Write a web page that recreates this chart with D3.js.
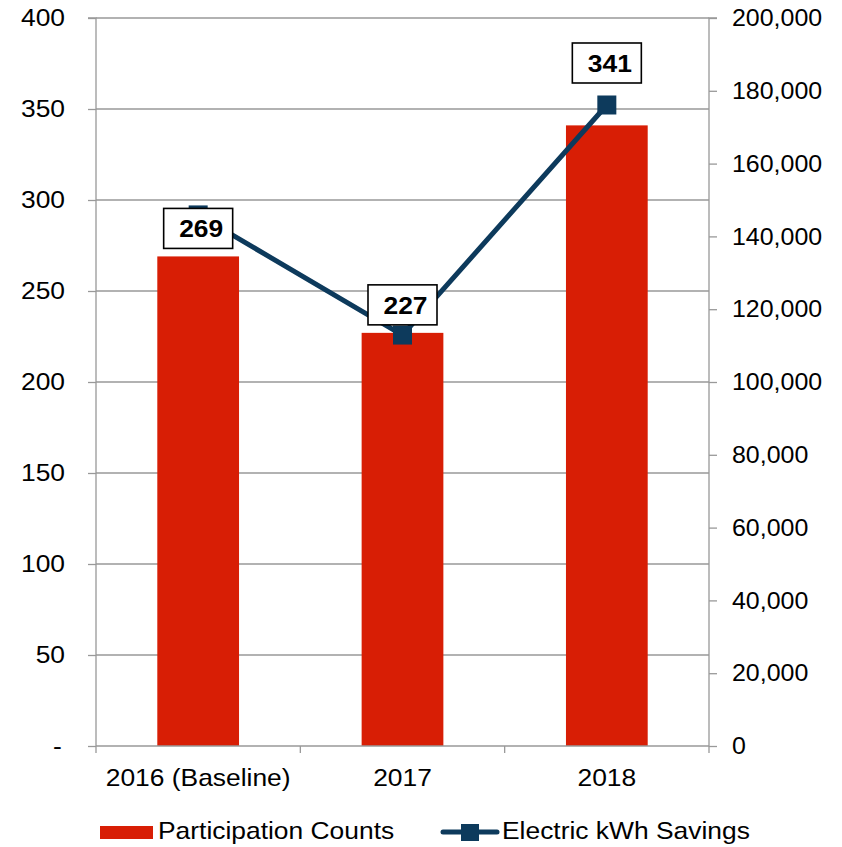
<!DOCTYPE html>
<html>
<head>
<meta charset="utf-8">
<script src="https://cdn.jsdelivr.net/npm/d3@7"></script>
<style>
  html, body { margin: 0; padding: 0; background: #fff; }
  text { font-family: "Liberation Sans", Arial, sans-serif; }
</style>
</head>
<body>
<svg id="chart" width="842" height="847"></svg>
<script>
// ---- data ----
const categories = ["2016 (Baseline)", "2017", "2018"];
const participationCounts = [269, 227, 341];
const electricKwhSavings = [145900, 112900, 176100];
const leftTicks = [0, 50, 100, 150, 200, 250, 300, 350, 400];
const rightTicks = [0, 20000, 40000, 60000, 80000, 100000, 120000, 140000, 160000, 180000, 200000];
const seriesNames = ["Participation Counts", "Electric kWh Savings"];

// ---- layout ----
const svg = d3.select("#chart");
const plot = { left: 96, right: 709, top: 18, bottom: 746 };
const barColor = "#d81e05";
const lineColor = "#0d3a5c";
const axisColor = "#999999";
const SX = 1.1; // horizontal text stretch to match reference glyph widths
const FONT = "Liberation Sans, Arial, sans-serif";

const x = d3.scaleBand().domain(categories).range([plot.left, plot.right]).paddingInner(0.6).paddingOuter(0.3);
const xTicks = d3.scaleBand().domain(categories).range([plot.left, plot.right]);
const yL = d3.scaleLinear().domain([0, 400]).range([plot.bottom, plot.top]);
const yR = d3.scaleLinear().domain([0, 200000]).range([plot.bottom, plot.top]);

// gridlines
svg.append("g").selectAll("line").data(leftTicks.filter(d => d > 0)).join("line")
  .attr("x1", plot.left).attr("x2", plot.right)
  .attr("y1", d => yL(d)).attr("y2", d => yL(d))
  .attr("stroke", axisColor).attr("stroke-width", 1.3);

// bars
svg.append("g").selectAll("rect").data(categories).join("rect")
  .attr("x", d => x(d))
  .attr("width", x.bandwidth())
  .attr("y", (d, i) => yL(participationCounts[i]))
  .attr("height", (d, i) => plot.bottom - yL(participationCounts[i]))
  .attr("fill", barColor);

function stretchTicks(g, sx) {
  g.selectAll(".tick text").each(function () {
    const t = d3.select(this);
    const ox = +t.attr("x") || 0;
    t.attr("x", ox / sx).attr("transform", `scale(${sx},1)`)
     .attr("font-size", 24).attr("fill", "#000").attr("font-family", FONT);
  });
}

// left axis
const leftAxis = d3.axisLeft(yL).tickValues(leftTicks).tickSize(8).tickPadding(23)
  .tickFormat(d => d === 0 ? "-" : d3.format("d")(d));
const gL = svg.append("g").attr("transform", `translate(${plot.left},0)`).call(leftAxis);
gL.select(".domain").attr("stroke", axisColor).attr("stroke-width", 1.3).attr("d", `M-8,${plot.top}H0V${plot.bottom}`);
gL.selectAll(".tick line").attr("stroke", axisColor).attr("stroke-width", 1.3);
stretchTicks(gL, SX);
gL.selectAll(".tick text").filter(d => d === 0).attr("dx", -3);

// right axis
const rightAxis = d3.axisRight(yR).tickValues(rightTicks).tickSize(8).tickPadding(15)
  .tickFormat(d3.format(","));
const gR = svg.append("g").attr("transform", `translate(${plot.right},0)`).call(rightAxis);
gR.select(".domain").attr("stroke", axisColor).attr("stroke-width", 1.3).attr("d", `M8,${plot.top}H0V${plot.bottom}`);
gR.selectAll(".tick line").attr("stroke", axisColor).attr("stroke-width", 1.3);
stretchTicks(gR, 1.04);

// bottom axis
const bottomAxis = d3.axisBottom(x).tickSize(0).tickPadding(23);
const gB = svg.append("g").attr("transform", `translate(0,${plot.bottom})`).call(bottomAxis);
gB.select(".domain").attr("stroke", axisColor).attr("stroke-width", 1.3).attr("d", `M${plot.left},0H${plot.right}`);
stretchTicks(gB, SX);
// category boundary ticks
const boundaries = categories.map(c => xTicks(c)).concat([plot.right]);
gB.append("g").selectAll("line").data(boundaries).join("line")
  .attr("x1", d => d).attr("x2", d => d).attr("y1", 0).attr("y2", 7)
  .attr("stroke", axisColor).attr("stroke-width", 1.3);

// line series
const cx = d => x(d) + x.bandwidth() / 2;
const line = d3.line().x((d, i) => cx(categories[i])).y(d => yR(d));
svg.append("path").datum(electricKwhSavings)
  .attr("d", line).attr("fill", "none").attr("stroke", lineColor).attr("stroke-width", 5).attr("stroke-linejoin", "round");
const ms = 19;
svg.append("g").selectAll("rect").data(electricKwhSavings).join("rect")
  .attr("x", (d, i) => cx(categories[i]) - ms / 2)
  .attr("y", d => yR(d) - ms / 2)
  .attr("width", ms).attr("height", ms)
  .attr("fill", lineColor);

// data labels for bars (boxed)
const boxW = 69, boxH = 40;
const labels = svg.append("g");
categories.forEach((c, i) => {
  const barTop = yL(participationCounts[i]);
  const my = yR(electricKwhSavings[i]);
  let cy = barTop - 28;
  // avoid covering a line marker with the label's centre: move above it
  if (my > cy - 10 && my < cy + boxH / 2) cy = my - 42;
  const g = labels.append("g").attr("transform", `translate(${cx(c)},${cy})`);
  g.append("rect").attr("x", -boxW / 2).attr("y", -boxH / 2).attr("width", boxW).attr("height", boxH)
    .attr("fill", "#fff").attr("stroke", "#000").attr("stroke-width", 1.6);
  g.append("text").attr("transform", `translate(3,9) scale(${SX},1)`).attr("text-anchor", "middle")
    .attr("font-size", 24).attr("font-weight", "bold").attr("fill", "#000")
    .text(participationCounts[i]);
});

// legend
const lg = svg.append("g");
lg.append("rect").attr("x", 100).attr("y", 826).attr("width", 53).attr("height", 13).attr("fill", barColor);
lg.append("text").attr("transform", `translate(158,839) scale(${SX},1)`).attr("font-size", 24).attr("fill", "#000").text(seriesNames[0]);
lg.append("line").attr("x1", 443).attr("x2", 497).attr("y1", 832).attr("y2", 832)
  .attr("stroke", lineColor).attr("stroke-width", 5).attr("stroke-linecap", "round");
lg.append("rect").attr("x", 461).attr("y", 824).attr("width", 18).attr("height", 17).attr("fill", lineColor);
lg.append("text").attr("transform", `translate(502,839) scale(${SX},1)`).attr("font-size", 24).attr("fill", "#000").text(seriesNames[1]);
</script>
</body>
</html>
